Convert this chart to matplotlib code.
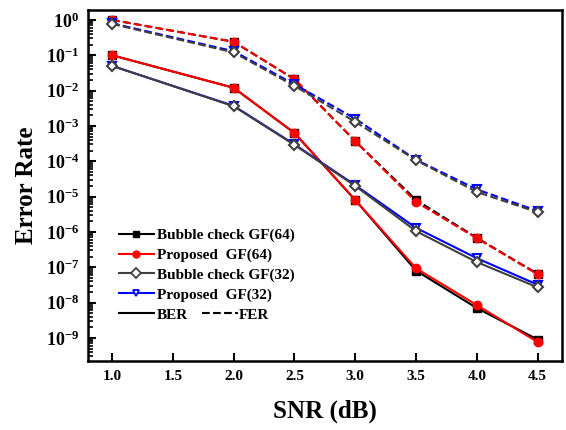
import numpy as np
import matplotlib
matplotlib.use("Agg")
import matplotlib.pyplot as plt
from matplotlib.lines import Line2D

# fonts: bold serif everywhere (Times-like)
plt.rcParams['font.family'] = ['Liberation Serif', 'DejaVu Serif']
plt.rcParams['font.weight'] = 'bold'
plt.rcParams['mathtext.fontset'] = 'custom'
plt.rcParams['mathtext.rm'] = 'Liberation Serif:bold'
plt.rcParams['mathtext.it'] = 'Liberation Serif:bold'
plt.rcParams['mathtext.bf'] = 'Liberation Serif:bold'

# SNR points (dB)
snr = [1.0, 2.0, 2.5, 3.0, 3.5, 4.0, 4.5]

# BER curves
ber_bubble64 = [0.1, 1.2e-2, 6.3e-4, 8.0e-6, 8.0e-8, 7.0e-9, 9.0e-10]
ber_prop64 = [0.1, 1.2e-2, 6.3e-4, 8.0e-6, 9.3e-8, 8.5e-9, 7.6e-10]
ber_bubble32 = [0.05, 3.6e-3, 2.9e-4, 2.0e-5, 1.05e-6, 1.4e-7, 2.7e-8]
ber_prop32 = [0.05, 3.7e-3, 3.0e-4, 2.1e-5, 1.3e-6, 1.8e-7, 3.2e-8]

# FER curves
fer_bubble64 = [1.0, 0.24, 2.1e-2, 3.7e-4, 8.0e-6, 6.8e-7, 6.5e-8]
fer_prop64 = [1.0, 0.24, 2.1e-2, 3.7e-4, 7.0e-6, 6.6e-7, 6.3e-8]
fer_bubble32 = [0.77, 0.12, 1.35e-2, 1.3e-3, 1.07e-4, 1.35e-5, 3.6e-6]
fer_prop32 = [0.8, 0.13, 1.5e-2, 1.6e-3, 1.1e-4, 1.6e-5, 3.9e-6]

x_ticks = [1.0, 1.5, 2.0, 2.5, 3.0, 3.5, 4.0, 4.5]
y_exponents = [0, -1, -2, -3, -4, -5, -6, -7, -8, -9]

fig = plt.figure(figsize=(5.66, 4.30), dpi=100)
ax = fig.add_axes([0.155, 0.160, 0.838, 0.817])

gray = '#404040'
lw = 1.5
ms = 6

# BER (solid)
ax.plot(snr, ber_bubble64, '-', color='black', marker='s', ms=ms, lw=lw)
ax.plot(snr, ber_prop64, '-', color='red', marker='o', ms=ms, lw=lw)
ax.plot(snr, ber_prop32, '-', color='blue', marker='v', ms=ms, lw=lw, mfc='white', mew=1.5)
ax.plot(snr, ber_bubble32, '-', color=gray, marker='D', ms=ms - 0.5, lw=lw, mfc='white', mew=1.5)

# FER (dashed)
ax.plot(snr, fer_bubble64, '--', color='black', marker='s', ms=ms, lw=lw)
ax.plot(snr, fer_prop64, '--', color='red', marker='o', ms=ms, lw=lw)
ax.plot(snr, fer_prop32, '--', color='blue', marker='v', ms=ms, lw=lw, mfc='white', mew=1.5)
ax.plot(snr, fer_bubble32, '--', color=gray, marker='D', ms=ms - 0.5, lw=lw, mfc='white', mew=1.5)

ax.set_yscale('log')
ax.set_xlim(0.8, 4.7)
ax.set_ylim(2.2e-10, 1.92)
ax.set_xticks(x_ticks)
ax.set_xticklabels([f'{v:.1f}' for v in x_ticks], fontsize=11, fontweight='bold')
ax.set_yticks([10.0 ** e for e in y_exponents])
ax.set_yticklabels([r'$10^{%d}$' % e for e in y_exponents], fontsize=13)
ax.yaxis.set_minor_locator(matplotlib.ticker.LogLocator(base=10, subs=np.arange(2, 10), numticks=30))
ax.yaxis.set_minor_formatter(matplotlib.ticker.NullFormatter())

ax.tick_params(which='major', direction='in', length=6, width=1.5, right=False, top=False, pad=6)
ax.tick_params(which='minor', direction='in', length=3.5, width=1.2, right=False, top=False)
for sp in ax.spines.values():
    sp.set_linewidth(1.8)

ax.set_xlabel('SNR (dB)', fontsize=18, fontweight='bold', labelpad=12)
ax.set_ylabel('Error Rate', fontsize=18, fontweight='bold', labelpad=6)

# legend
handles = [
    Line2D([], [], color='black', marker='s', ms=5, lw=lw),
    Line2D([], [], color='red', marker='o', ms=5, lw=lw),
    Line2D([], [], color=gray, marker='D', ms=5, lw=lw, mfc='white', mew=1.3),
    Line2D([], [], color='blue', marker='v', ms=5, lw=lw, mfc='white', mew=1.3),
    Line2D([], [], color='black', lw=lw),
]
labels = ['Bubble check GF(64)', 'Proposed  GF(64)', 'Bubble check GF(32)',
          'Proposed  GF(32)', 'BER']
leg = ax.legend(handles, labels, loc='upper left', bbox_to_anchor=(0.052, 0.396),
                frameon=False, fontsize=11, handlelength=2.3, handletextpad=0.2,
                labelspacing=0.4, borderaxespad=0)
ax.add_artist(leg)
leg2 = ax.legend([Line2D([], [], color='black', lw=lw, ls='--')], ['FER'],
                 loc='upper left', bbox_to_anchor=(0.229, 0.169),
                 frameon=False, fontsize=11, handlelength=2.3, handletextpad=0.1,
                 borderaxespad=0)

fig.savefig('out.png', dpi=100)
